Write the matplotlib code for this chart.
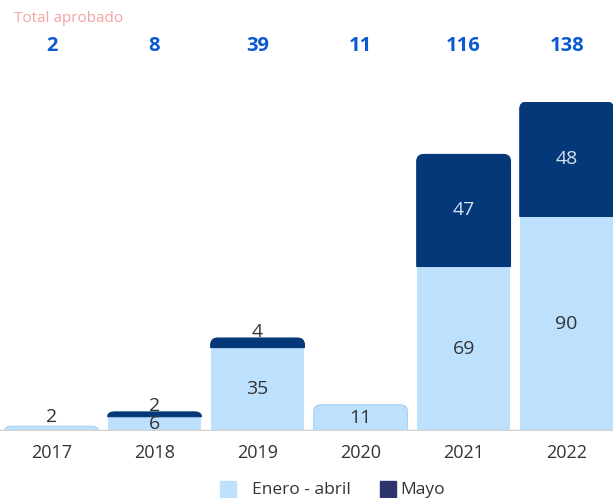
import numpy as np
import matplotlib
matplotlib.use('Agg')
from matplotlib import pyplot as plt
from matplotlib.path import Path
from matplotlib.patches import PathPatch, Rectangle
from matplotlib.transforms import blended_transform_factory

plt.rcParams['font.family'] = ['Open Sans', 'DejaVu Sans']

anios = ['2017', '2018', '2019', '2020', '2021', '2022']
enero_abril = [2, 6, 35, 11, 69, 90]
mayo = [0, 2, 4, 0, 47, 48]
totales = [2, 8, 39, 11, 116, 138]

c_claro = '#bde0fc'
c_oscuro = '#043878'
c_leyenda_oscuro = '#2e356e'
c_total = '#0b5ad0'
c_texto = '#333333'

W, H, DPI = 613, 498, 100
fig = plt.figure(figsize=(W / DPI, H / DPI), dpi=DPI)
ax = fig.add_axes([0, 67 / H, 1, 329 / H])
ax.set_xlim(-0.5, 5.45)
ax.set_ylim(0, 138)
ax.axis('off')

# x en datos, y en fraccion de figura
tr = blended_transform_factory(ax.transData, fig.transFigure)

x = np.arange(len(anios))
ancho = 0.91
fs_val = 14


def barra_redondeada(x0, w, y0, h, r_px, color, edge=None):
  # radio en pixeles -> unidades de datos
  p0 = ax.transData.transform((0, 0))
  p1 = ax.transData.transform((1, 1))
  rx = r_px / (p1[0] - p0[0])
  ry = min(r_px / (p1[1] - p0[1]), h)
  top = y0 + h
  verts = [(x0, y0), (x0, top - ry), (x0, top), (x0 + rx, top),
           (x0 + w - rx, top), (x0 + w, top), (x0 + w, top - ry),
           (x0 + w, y0), (x0, y0)]
  codes = [Path.MOVETO, Path.LINETO, Path.CURVE3, Path.CURVE3,
           Path.LINETO, Path.CURVE3, Path.CURVE3, Path.LINETO,
           Path.CLOSEPOLY]
  ax.add_patch(PathPatch(Path(verts, codes), facecolor=color,
                         edgecolor=edge or color, lw=0.8, zorder=2))


for i in range(len(anios)):
  xi = x[i] - ancho / 2
  if mayo[i] > 0:
    ax.bar(x[i], enero_abril[i], width=ancho, color=c_claro, zorder=2)
    barra_redondeada(xi, ancho, enero_abril[i], mayo[i], 7, c_oscuro)
  else:
    barra_redondeada(xi, ancho, 0, enero_abril[i], 7, c_claro, '#a8d2f4')

  # etiquetas de valores
  if enero_abril[i] < 5:
    ax.text(x[i], enero_abril[i] + 0.2, str(enero_abril[i]), ha='center',
            va='bottom', fontsize=fs_val, color=c_texto, zorder=4)
  else:
    ax.text(x[i], enero_abril[i] / 2, str(enero_abril[i]), ha='center',
            va='center', fontsize=fs_val, color=c_texto, zorder=4)
  if mayo[i] > 0:
    top = enero_abril[i] + mayo[i]
    if mayo[i] < 5:
      ax.text(x[i], top - 1.2, str(mayo[i]), ha='center', va='bottom',
              fontsize=fs_val, color=c_texto, zorder=4)
    else:
      ax.text(x[i], enero_abril[i] + mayo[i] / 2, str(mayo[i]), ha='center',
              va='center', fontsize=fs_val, color='#d4e2f2', zorder=4)

  # totales arriba y anios abajo
  ax.text(x[i], 1 - 46 / H, str(totales[i]), transform=tr,
          ha='center', va='center', fontsize=14.5, fontweight='bold',
          color=c_total)
  ax.text(x[i], 1 - 453 / H, anios[i], ha='center', va='center',
          fontsize=13, color=c_texto, transform=tr)

ax.axhline(0, color='#d3d3d3', lw=2.5, zorder=3)

fig.text(14 / W, 1 - 18 / H, 'Total aprobado', ha='left', va='center',
         fontsize=11, color='#f4a3a3')

# leyenda
fig.patches.append(Rectangle((220 / W, 1 - 497 / H), 16 / W, 16 / H,
                             transform=fig.transFigure, color=c_claro))
fig.text(252 / W, 1 - 490 / H, 'Enero - abril', ha='left', va='center',
         fontsize=12.5, color=c_texto)
fig.patches.append(Rectangle((380 / W, 1 - 497 / H), 16 / W, 16 / H,
                             transform=fig.transFigure, color=c_leyenda_oscuro))
fig.text(400 / W, 1 - 490 / H, 'Mayo', ha='left', va='center',
         fontsize=12.5, color=c_texto)

fig.savefig('out.png', dpi=DPI)
